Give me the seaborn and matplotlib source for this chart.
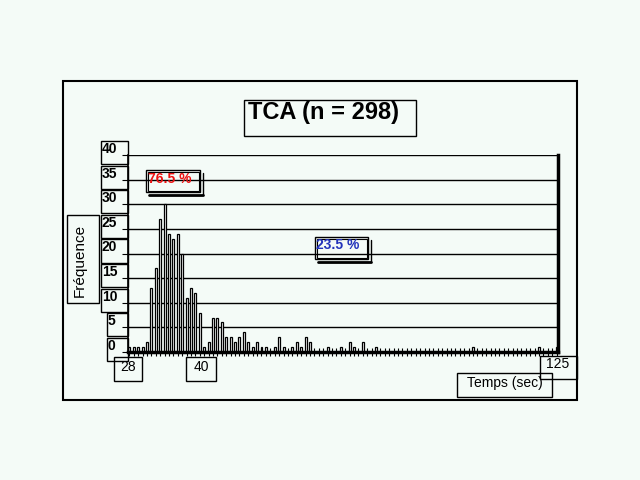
import matplotlib
matplotlib.use("Agg")
import matplotlib.pyplot as plt
from matplotlib.patches import Rectangle
from matplotlib.lines import Line2D
import pandas as pd
import seaborn as sns

# Temps de réponse (sec) et nombre de sujets
secondes = [28, 29, 30, 31, 32, 33, 34, 35, 36, 37, 38, 39, 40, 41, 42, 43, 44,
            45, 46, 47, 48, 49, 50, 51, 52, 53, 54, 55, 56, 57, 58, 59, 61, 62,
            63, 65, 66, 67, 68, 69, 73, 76, 78, 79, 81, 84, 106, 121, 125]
effectifs = [1, 1, 1, 1, 2, 13, 17, 27, 30, 24, 23, 24, 20, 11, 13, 12, 8,
             1, 2, 7, 7, 6, 3, 3, 2, 3, 4, 2, 1, 2, 1, 1, 1, 3,
             1, 1, 2, 1, 3, 2, 1, 1, 2, 1, 2, 1, 1, 1, 1]

titre = "TCA (n = 298)"
pct_gauche = "76.5 %"
pct_droite = "23.5 %"
y_ticks = [0, 5, 10, 15, 20, 25, 30, 35, 40]

df = pd.DataFrame({"Temps": secondes, "Frequence": effectifs})

sns.set_theme(style="white")
plt.rcParams["font.family"] = ["Liberation Sans", "DejaVu Sans"]
plt.rcParams["text.color"] = "black"

W, H = 640, 480
bg = "#f4fbf7"
fig = plt.figure(figsize=(6.4, 4.8), dpi=100, facecolor=bg)
ax = fig.add_axes([128 / W, 1 - 352 / H, 430 / W, 197 / H])
ax.set_facecolor(bg)

sns.barplot(data=df, x="Temps", y="Frequence", native_scale=True, width=0.45,
            color="white", edgecolor="black", linewidth=0.9, errorbar=None, ax=ax)

ax.set_xlim(27.7, 125.3)
ax.set_ylim(0, 40)
ax.set_xticks(range(28, 126))
ax.set_xticklabels([])
ax.set_yticks(y_ticks)
ax.set_yticklabels([])
ax.set_xlabel("")
ax.set_ylabel("")
ax.tick_params(axis="x", direction="inout", length=6, width=0.8, color="black", bottom=True)
ax.tick_params(axis="y", direction="out", length=4, width=0.8, color="black", left=True)
ax.yaxis.grid(True, color="black", linewidth=1)
ax.xaxis.grid(False)
ax.set_axisbelow(True)
ax.spines["top"].set_visible(False)
ax.spines["left"].set_linewidth(1.2)
ax.spines["bottom"].set_linewidth(2.5)
ax.spines["right"].set_linewidth(2.5)
for s in ax.spines.values():
    s.set_color("black")


def box(x0, y0, x1, y1, lw=1.0):
    fig.add_artist(Rectangle((x0 / W, 1 - y1 / H), (x1 - x0) / W, (y1 - y0) / H,
                             transform=fig.transFigure, fill=False,
                             edgecolor="black", linewidth=lw))


def shadow_box(x0, y0, x1, y1):
    box(x0, y0, x1, y1)
    box(x0 + 1.5, y0 + 1.5, x1 - 1.5, y1 - 1.5, lw=0.8)
    fig.add_artist(Line2D([(x0 + 3) / W, (x1 + 3) / W], [1 - (y1 + 3) / H] * 2,
                          transform=fig.transFigure, color="black", linewidth=2))
    fig.add_artist(Line2D([(x1 + 3) / W] * 2, [1 - (y0 + 3) / H, 1 - (y1 + 3) / H],
                          transform=fig.transFigure, color="black", linewidth=1))


def label(x, y, s, **kw):
    fig.text(x / W, 1 - y / H, s, **kw)


# cadre extérieur
box(63, 81, 577, 400, lw=1.5)

# titre
box(244, 100, 416, 136)
label(248, 113, titre, fontsize=17, fontweight="bold", va="center", ha="left")

# étiquettes de l'axe y dans leurs cases
fig.canvas.draw()
for v in y_ticks:
    gy = H - ax.transData.transform((28, v))[1]
    x0 = 107 if v < 10 else 101
    box(x0, gy - 14, 128, gy + 9)
    label(x0 + 1, gy - 6, str(v), fontsize=10, fontweight="bold", va="center", ha="left")

# étiquette de l'axe y
box(67, 215, 99, 303)
label(80, 260, "Fréquence", fontsize=11, rotation=90, va="center", ha="center")

# étiquettes de l'axe x
box(114, 357, 142, 381)
label(128, 367, "28", fontsize=10, va="center", ha="center")
box(186, 357, 216, 381)
label(201, 367, "40", fontsize=10, va="center", ha="center")
box(540, 356, 577, 379)
label(558, 364, "125", fontsize=10, va="center", ha="center")
box(457, 373, 552, 397)
label(505, 383, "Temps (sec)", fontsize=10, va="center", ha="center")

# pourcentages avec ombre
shadow_box(146, 170, 200, 192)
label(148, 179, pct_gauche, fontsize=10, fontweight="bold", color="#ee1111", va="center", ha="left")
shadow_box(315, 237, 368, 259)
label(316, 245, pct_droite, fontsize=10, fontweight="bold", color="#2233bb", va="center", ha="left")

fig.savefig("out.png", dpi=100, facecolor=bg)
